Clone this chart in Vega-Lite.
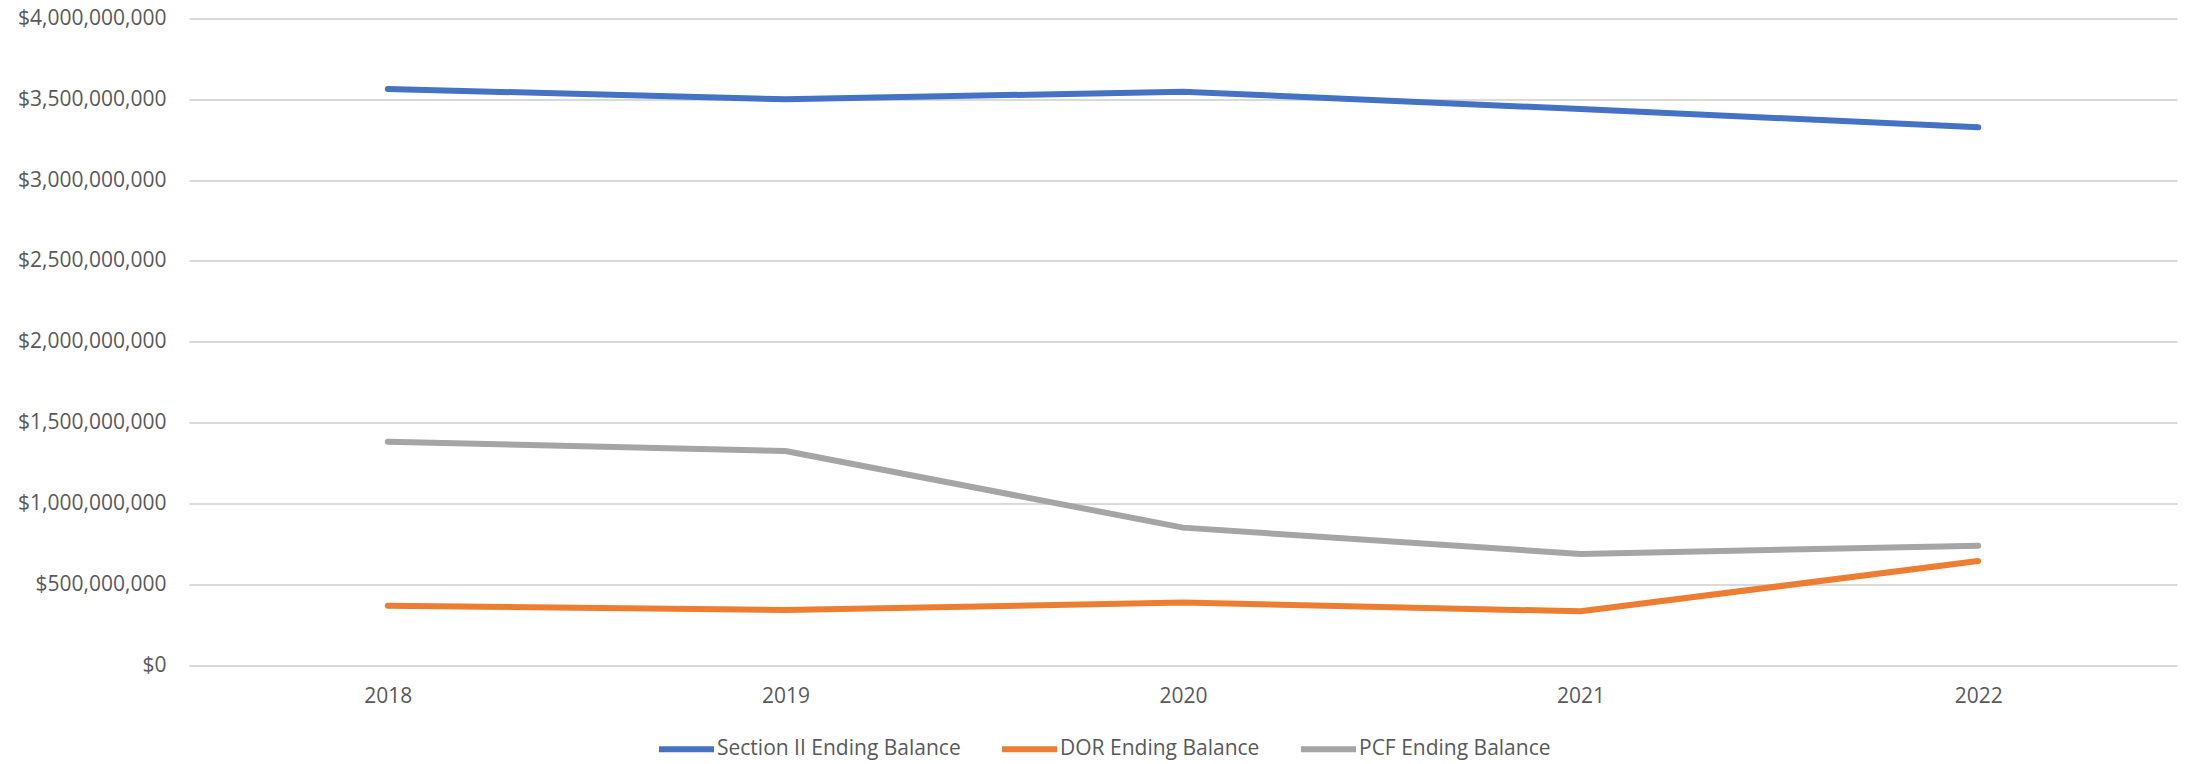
{
  "$schema": "https://vega.github.io/schema/vega-lite/v6.json",
  "width": 1988,
  "height": 646.5,
  "autosize": {"type": "none"},
  "padding": {"left": 189, "top": 18.5, "right": 11, "bottom": 99},
  "background": "white",
  "config": {
    "font": "Open Sans",
    "view": {"stroke": null},
    "axis": {
      "labelFont": "Open Sans",
      "labelFontSize": 21,
      "labelColor": "#595959",
      "domain": false,
      "ticks": false,
      "title": null
    },
    "legend": {
      "labelFont": "Open Sans",
      "labelFontSize": 21,
      "labelColor": "#595959",
      "labelLimit": 0
    }
  },
  "data": {
    "values": [
      {"year": "2018", "series": "Section II Ending Balance", "balance": 3564000000},
      {"year": "2019", "series": "Section II Ending Balance", "balance": 3500000000},
      {"year": "2020", "series": "Section II Ending Balance", "balance": 3547000000},
      {"year": "2021", "series": "Section II Ending Balance", "balance": 3440000000},
      {"year": "2022", "series": "Section II Ending Balance", "balance": 3327000000},
      {"year": "2018", "series": "DOR Ending Balance", "balance": 367000000},
      {"year": "2019", "series": "DOR Ending Balance", "balance": 340000000},
      {"year": "2020", "series": "DOR Ending Balance", "balance": 386000000},
      {"year": "2021", "series": "DOR Ending Balance", "balance": 332000000},
      {"year": "2022", "series": "DOR Ending Balance", "balance": 643000000},
      {"year": "2018", "series": "PCF Ending Balance", "balance": 1382000000},
      {"year": "2019", "series": "PCF Ending Balance", "balance": 1324000000},
      {"year": "2020", "series": "PCF Ending Balance", "balance": 850000000},
      {"year": "2021", "series": "PCF Ending Balance", "balance": 687000000},
      {"year": "2022", "series": "PCF Ending Balance", "balance": 738000000}
    ]
  },
  "mark": {"type": "line", "strokeWidth": 6, "strokeCap": "round", "strokeJoin": "round"},
  "encoding": {
    "x": {
      "field": "year",
      "type": "ordinal",
      "scale": {"type": "point", "padding": 0.5},
      "axis": {"labelAngle": 0, "labelPadding": 20, "grid": false}
    },
    "y": {
      "field": "balance",
      "type": "quantitative",
      "scale": {"domain": [0, 4000000000], "nice": false},
      "axis": {
        "values": [0, 500000000, 1000000000, 1500000000, 2000000000, 2500000000, 3000000000, 3500000000, 4000000000],
        "format": "$,.0f",
        "labelPadding": 23,
        "grid": true,
        "gridColor": "#d9d9d9",
        "gridWidth": 2
      }
    },
    "color": {
      "field": "series",
      "type": "nominal",
      "scale": {
        "domain": ["Section II Ending Balance", "DOR Ending Balance", "PCF Ending Balance"],
        "range": ["#4472C4", "#ED7D31", "#A5A5A5"]
      },
      "legend": {
        "title": null,
        "orient": "none",
        "direction": "horizontal",
        "legendX": 467,
        "legendY": 700,
        "symbolType": "stroke",
        "symbolSize": 3025,
        "symbolStrokeWidth": 6,
        "labelOffset": 0,
        "columnPadding": 29
      }
    }
  }
}
